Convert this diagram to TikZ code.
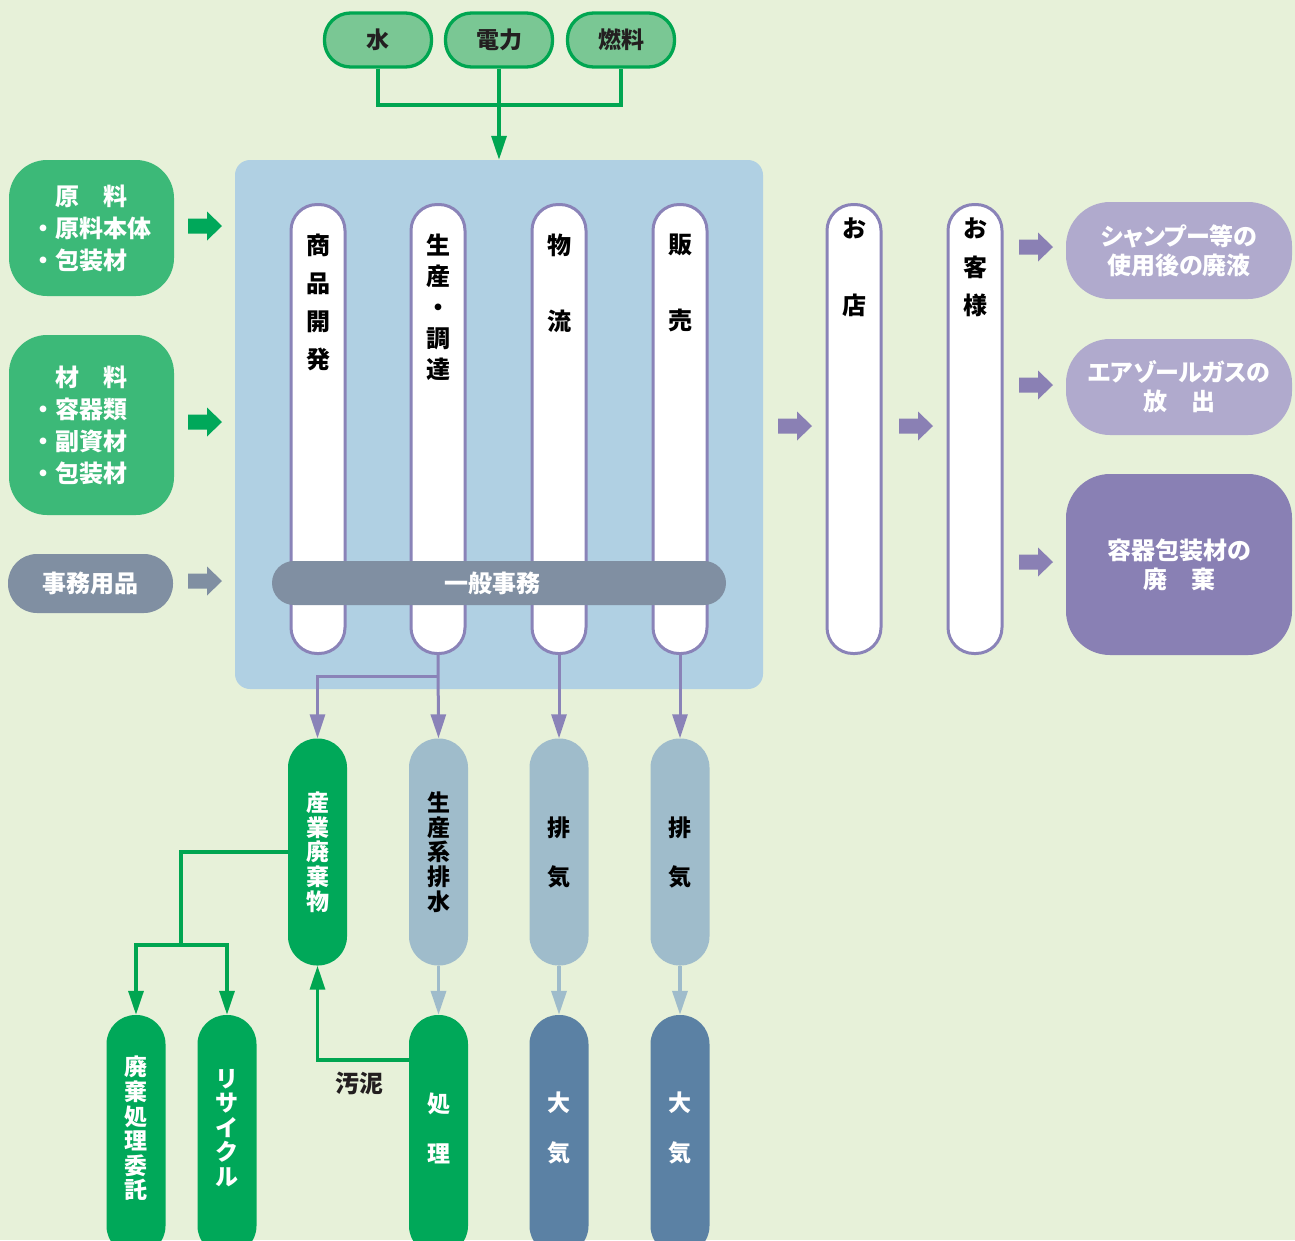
\documentclass[tikz,border=0pt]{standalone}
\usepackage{fontspec}
\setmainfont{Noto Sans CJK JP}
\usetikzlibrary{arrows.meta}
\definecolor{bgc}{HTML}{E7F1D9}
\definecolor{tgreen}{HTML}{7AC794}
\definecolor{ggreen}{HTML}{00A651}
\definecolor{lgreen}{HTML}{3CB978}
\definecolor{agreen}{HTML}{00A85A}
\definecolor{grayb}{HTML}{808FA2}
\definecolor{panelc}{HTML}{B0D0E3}
\definecolor{purp}{HTML}{8A83B8}
\definecolor{parr}{HTML}{8A80B4}
\definecolor{lpurp}{HTML}{B0AACD}
\definecolor{dpurp}{HTML}{8980B4}
\definecolor{gnodec}{HTML}{00A859}
\definecolor{gbc}{HTML}{9FBCCB}
\definecolor{dbc}{HTML}{5B81A4}
\definecolor{txt}{HTML}{231F20}
\newcommand\BlkArr[3]{\fill[#3,shift={(#1,#2)}] (0,-7.5) -- (19,-7.5) -- (19,-14.5) -- (34,0) -- (19,14.5) -- (19,7.5) -- (0,7.5) -- cycle;}
\tikzset{
 toppill/.style={draw=ggreen,line width=3.3pt,fill=tgreen,rounded corners=26pt,minimum width=107pt,minimum height=54pt,inner sep=0pt,text=txt,font=\fontsize{23}{26}\selectfont\bfseries},
 colpill/.style={draw=purp,line width=3pt,fill=white,rounded corners=26pt,minimum width=54pt,minimum height=449pt,inner sep=0pt},
 vtxt/.style={align=center,inner sep=0pt,text=black},
 lbox/.style={fill=lgreen,rounded corners=38pt,minimum width=165pt,inner sep=0pt,text=white,align=left,text width=120pt,font=\fontsize{24}{32}\selectfont\bfseries},
 rbox/.style={rounded corners=44pt,minimum width=226pt,inner sep=0pt,text=white,align=center,font=\fontsize{24}{29}\selectfont\bfseries\addfontfeatures{RawFeature=+palt}},
 bnode/.style={rounded corners=29pt,minimum width=59pt,inner sep=0pt,align=center},
 gline/.style={draw=ggreen,line width=3.3pt},
 pline/.style={draw=purp,line width=3pt},
 lline/.style={draw=gbc,line width=3.5pt},
 tipg/.style={-{Triangle[length=24pt,width=15pt]}},
}
\begin{document}
\begin{tikzpicture}[x=1pt,y=-1pt,font=\bfseries]
\useasboundingbox (0,0) rectangle (1295,1240);
\fill[bgc] (0,0) rectangle (1295,1240);
\clip (0,0) rectangle (1295,1240);

% top inputs
\node[toppill] (water) at (378,40) {水};
\node[toppill] (power) at (499,40) {電力};
\node[toppill] (fuel) at (621,40) {燃料};

% main panel
\node[fill=panelc,rounded corners=15pt,minimum width=528pt,minimum height=529pt,inner sep=0pt] (panel) at (499,424.5) {};

\coordinate (jn) at (499,105);
\draw[gline] (water.south) |- (jn) -| (fuel.south);
\draw[gline,tipg] (power.south) -- (panel.north);

% columns
\node[colpill] (c1) at (318,429) {};
\node[colpill] (c2) at (438,429) {};
\node[colpill] (c3) at (559,429) {};
\node[colpill] (c4) at (680,429) {};
\node[vtxt,anchor=north,font=\fontsize{24}{38}\selectfont\bfseries] (t1) at (318,234) {商\\品\\開\\発};
\node[vtxt,anchor=north,font=\fontsize{24}{31}\selectfont\bfseries] (t2) at (438,234) {生\\産\\・\\調\\達};
\node[vtxt,anchor=north,font=\fontsize{24}{76}\selectfont\bfseries] (t3) at (559,234) {物\\流};
\node[vtxt,anchor=north,font=\fontsize{24}{76}\selectfont\bfseries] (t4) at (680,234) {販\\売};

\node[fill=grayb,rounded corners=22pt,minimum width=454pt,minimum height=44pt,inner sep=0pt,text=white,font=\fontsize{24}{26}\selectfont\bfseries] (gen) at (499,583) {\hspace*{-14pt}一般事務};

% shop / customer
\node[colpill] (shop) at (854,429) {};
\node[colpill] (cust) at (975,429) {};
\node[vtxt,anchor=north,font=\fontsize{24}{77}\selectfont\bfseries] (ts) at (854,218) {お\\店};
\node[vtxt,anchor=north,font=\fontsize{24}{38.5}\selectfont\bfseries] (tc) at (975,218) {お\\客\\様};

\BlkArr{778}{426}{parr}
\BlkArr{899}{426}{parr}
\BlkArr{1019}{247}{parr}
\BlkArr{1019}{385}{parr}
\BlkArr{1019}{562}{parr}

% right outputs
\node[rbox,fill=lpurp,minimum height=97pt] (shampoo) at (1179,250.5) {シャンプー等の\\使用後の廃液};
\node[rbox,fill=lpurp,minimum height=96pt] (aero) at (1179,387) {エアゾールガスの\\放　出};
\node[rbox,fill=dpurp,minimum height=181pt] (pack) at (1179,564.5) {容器包装材の\\廃　棄};

% left inputs
\node[lbox,minimum height=136pt] (raw) at (91.5,228) {\hspace*{1em}原\hspace{1em}料\\・原料本体\\・包装材};
\node[lbox,minimum height=180pt] (mat) at (91.5,425) {\hspace*{1em}材\hspace{1em}料\\・容器類\\・副資材\\・包装材};
\node[fill=grayb,rounded corners=29pt,minimum width=165pt,minimum height=59pt,inner sep=0pt,text=white,font=\fontsize{24}{26}\selectfont\bfseries] (office) at (90.5,583.5) {事務用品};
\BlkArr{188}{226}{agreen}
\BlkArr{188}{422}{agreen}
\BlkArr{188}{581}{grayb}

% bottom row 1
\node[bnode,fill=gnodec,minimum height=227pt,text=white,font=\fontsize{23}{24.7}\selectfont\bfseries] (waste) at (317.5,852) {産\\業\\廃\\棄\\物};
\node[bnode,fill=gbc,minimum height=227pt,text=black,font=\fontsize{23}{24.7}\selectfont\bfseries] (drain) at (438.5,852) {生\\産\\系\\排\\水};
\node[bnode,fill=gbc,minimum height=227pt,text=black,font=\fontsize{23}{49}\selectfont\bfseries] (exh1) at (559,852) {排\\気};
\node[bnode,fill=gbc,minimum height=227pt,text=black,font=\fontsize{23}{49}\selectfont\bfseries] (exh2) at (680,852) {排\\気};

% bottom row 2
\node[bnode,fill=gnodec,minimum height=240pt] (consign) at (136,1135) {};
\node[bnode,fill=gnodec,minimum height=240pt] (recyc) at (227,1135) {};
\node[bnode,fill=gnodec,minimum height=240pt] (treat) at (438.5,1135) {};
\node[bnode,fill=dbc,minimum height=240pt] (air1) at (559,1135) {};
\node[bnode,fill=dbc,minimum height=240pt] (air2) at (680,1135) {};
\node[vtxt,text=white,font=\fontsize{23}{24.6}\selectfont\bfseries] (tcons) at (136,1128.5) {廃\\棄\\処\\理\\委\\託};
\node[vtxt,text=white,font=\fontsize{23}{24.5}\selectfont\bfseries] (trec) at (227,1128) {リ\\サ\\イ\\ク\\ル};
\node[vtxt,text=white,font=\fontsize{23}{50}\selectfont\bfseries] (ttreat) at (438.5,1128) {処\\理};
\node[vtxt,text=white,font=\fontsize{23}{50}\selectfont\bfseries] (tair1) at (559,1128) {大\\気};
\node[vtxt,text=white,font=\fontsize{23}{50}\selectfont\bfseries] (tair2) at (680,1128) {大\\気};

% connectors from columns
\coordinate (br) at (438,676);
\draw[pline,tipg] (c2.south) -- (drain.north);
\draw[pline,tipg] (br) -| (waste.north);
\draw[pline,tipg] (c3.south) -- (exh1.north);
\draw[pline,tipg] (c4.south) -- (exh2.north);

\draw[lline,tipg] (drain.south) -- (treat.north);
\draw[lline,tipg] (exh1.south) -- (air1.north);
\draw[lline,tipg] (exh2.south) -- (air2.north);

\coordinate (g1) at (181,852);
\coordinate (g2) at (181,945);
\draw[gline] (waste.west) -- (g1) -- (g2);
\draw[gline,tipg] (g2) -| (consign.north);
\draw[gline,tipg] (g2) -| (recyc.north);

\coordinate (sl) at (409,1060);
\draw[gline,tipg] (sl) -| (waste.south);
\node[text=txt,font=\fontsize{24}{26}\selectfont\bfseries,inner sep=0pt] (sludge) at (359,1083) {汚泥};
\end{tikzpicture}
\end{document}
